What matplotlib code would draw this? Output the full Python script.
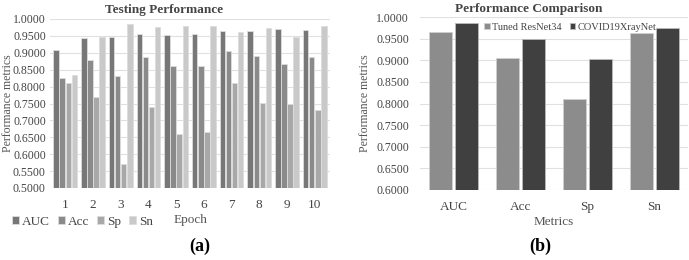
import matplotlib.pyplot as plt
import numpy as np

plt.rcParams['font.family'] = ['Liberation Serif', 'DejaVu Serif']

epochs = ['1', '2', '3', '4', '5', '6', '7', '8', '9', '10']
auc = [0.908, 0.945, 0.948, 0.957, 0.952, 0.957, 0.965, 0.965, 0.969, 0.967]
acc = [0.826, 0.880, 0.830, 0.888, 0.860, 0.860, 0.905, 0.890, 0.868, 0.888]
sp = [0.810, 0.770, 0.570, 0.740, 0.660, 0.665, 0.810, 0.752, 0.750, 0.730]
sn = [0.835, 0.948, 0.985, 0.975, 0.980, 0.978, 0.963, 0.972, 0.948, 0.980]

metrics = ['AUC', 'Acc', 'Sp', 'Sn']
resnet = [0.966, 0.906, 0.811, 0.963]
xraynet = [0.986, 0.948, 0.902, 0.975]

fig = plt.figure(figsize=(6.89, 2.6), dpi=100)

# (a) testing performance
ax1 = fig.add_axes([50/689, 1-188/260, 280/689, 169/260])
x = np.arange(len(epochs))
w = 0.22
series = [(auc, 'AUC', '#777777'), (acc, 'Acc', '#8a8a8a'),
          (sp, 'Sp', '#a8a8a8'), (sn, 'Sn', '#c9c9c9')]
for i, (vals, lab, col) in enumerate(series):
    ax1.bar(x + (i - 1.5) * w, vals, w * 0.9, color=col, edgecolor='#dddddd',
            linewidth=0.6, label=lab, zorder=2)
ax1.set_ylim(0.5, 1.0)
ax1.set_xlim(-0.55, 9.55)
ax1.set_yticks(np.arange(0.5, 1.0001, 0.05))
ax1.set_yticklabels(['%.4f' % v for v in np.arange(0.5, 1.0001, 0.05)])
ax1.set_xticks(x)
ax1.set_xticklabels(epochs)
ax1.grid(axis='y', color='#e0e0e0', linewidth=0.8, zorder=0)
for s in ax1.spines.values():
    s.set_visible(False)
ax1.tick_params(length=0, labelsize=9.5, colors='#444444', pad=4)
ax1.tick_params(axis='y', labelsize=8.5, pad=3)
ax1.tick_params(axis='x', pad=8)
ax1.set_ylabel('Performance metrics', fontsize=8.5, color='#555555')
ax1.yaxis.set_label_coords(-36/280, 0.5)
ax1.legend(loc='center left', bbox_to_anchor=(-38/280, -34/169), ncol=4, frameon=False,
           fontsize=9.5, handlelength=0.55, handleheight=0.55, handletextpad=0.2,
           columnspacing=0.6, labelcolor='#444444', borderaxespad=0, borderpad=0)
fig.text(164/689, 1-10/260, 'Testing Performance', ha='center', va='center',
         fontsize=9.5, fontweight='bold', color='#444444')
fig.text(191/689, 1-220/260, 'Epoch', ha='center', va='center', fontsize=9.5, color='#555555')
fig.text(200/689, 1-246/260, '(a)', ha='center', va='center', fontsize=13, fontweight='bold')

# (b) performance comparison
ax2 = fig.add_axes([420/689, 1-190/260, 268/689, 173/260])
x2 = np.arange(len(metrics))
w2 = 0.34
ax2.bar(x2 - w2/2 - 0.02, resnet, w2, color='#8c8c8c', edgecolor='#cfcfcf',
        linewidth=0.6, label='Tuned ResNet34', zorder=2)
ax2.bar(x2 + w2/2 + 0.02, xraynet, w2, color='#404040', edgecolor='#bbbbbb',
        linewidth=0.6, label='COVID19XrayNet', zorder=2)
ax2.set_ylim(0.6, 1.0)
ax2.set_xlim(-0.5, 3.5)
ax2.set_yticks(np.arange(0.6, 1.0001, 0.05))
ax2.set_yticklabels(['%.4f' % v for v in np.arange(0.6, 1.0001, 0.05)])
ax2.set_xticks(x2)
ax2.set_xticklabels(metrics)
ax2.grid(axis='y', color='#e0e0e0', linewidth=0.8, zorder=0)
for s in ax2.spines.values():
    s.set_visible(False)
ax2.tick_params(length=0, labelsize=9.5, colors='#444444', pad=4)
ax2.tick_params(axis='y', labelsize=8.5, pad=8)
ax2.tick_params(axis='x', pad=8)
ax2.set_ylabel('Performance metrics', fontsize=8.5, color='#555555')
ax2.yaxis.set_label_coords(-49/268, 0.5)
ax2.set_xlabel('Metrics', fontsize=9.5, color='#555555', labelpad=2)
ax2.legend(loc='center', bbox_to_anchor=(0.56, 163/173), ncol=2, frameon=False,
           fontsize=7.5, handlelength=0.55, handleheight=0.55, handletextpad=0.2,
           columnspacing=0.8, labelcolor='#444444', borderaxespad=0, borderpad=0)
fig.text(529/689, 1-9/260, 'Performance Comparison', ha='center', va='center',
         fontsize=9.5, fontweight='bold', color='#444444')
fig.text(540/689, 1-246/260, '(b)', ha='center', va='center', fontsize=13, fontweight='bold')

fig.savefig('out.png', dpi=100)
